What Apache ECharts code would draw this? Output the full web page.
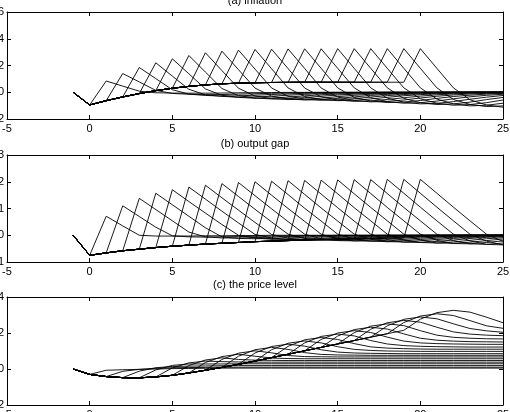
<!DOCTYPE html>
<html>
<head>
<meta charset="utf-8">
<script src="https://cdn.jsdelivr.net/npm/echarts@6/dist/echarts.min.js"></script>
<style>
  html, body { margin: 0; padding: 0; background: #fff; }
  #main { width: 510px; height: 412px; }
</style>
</head>
<body>
<div id="main"></div>
<script>
// periods -1 .. 25
const periods = [-1, 0, 1, 2, 3, 4, 5, 6, 7, 8, 9, 10, 11, 12, 13, 14, 15, 16, 17, 18, 19, 20, 21, 22, 23, 24, 25];
const xTicks = [-5, 0, 5, 10, 15, 20, 25];
const panelTitles = ['(a) inflation', '(b) output gap', '(c) the price level'];

// common path before each line leaves it (t = -1 .. 19)
const inflBase = [0, -0.95, -0.63, -0.35, -0.1, 0.12, 0.3, 0.44, 0.55, 0.63, 0.68, 0.71, 0.73, 0.74, 0.75, 0.75, 0.75, 0.75, 0.75, 0.75, 0.75];
const gapBase = [0, -0.75, -0.66, -0.58, -0.52, -0.46, -0.41, -0.37, -0.33, -0.3, -0.27, -0.24, -0.22, -0.2, -0.18, -0.16, -0.15, -0.13, -0.12, -0.11, -0.1];
const priceBase = [0, -0.3, -0.42, -0.48, -0.49, -0.44, -0.35, -0.22, -0.07, 0.09, 0.26, 0.44, 0.63, 0.82, 1.01, 1.2, 1.39, 1.58, 1.77, 1.96, 2.15];

// line k: values from t = k to t = 25
const inflTails = [
  [0.84, 0.46, 0.08, -0.04, -0.06, -0.07, -0.07, -0.06, -0.04, -0.03, -0.02, -0.01, -0.01, 0, 0, 0, 0, 0, 0, 0, 0, 0, 0, 0, 0],
  [1.4, 0.77, 0.14, -0.09, -0.15, -0.18, -0.17, -0.14, -0.11, -0.08, -0.05, -0.03, -0.02, -0.01, -0.01, 0, 0, 0, 0, 0, 0, 0, 0, 0],
  [1.85, 1.02, 0.19, -0.14, -0.24, -0.28, -0.27, -0.22, -0.17, -0.12, -0.08, -0.05, -0.03, -0.02, -0.01, 0, 0, 0, 0, 0, 0, 0, 0],
  [2.2, 1.21, 0.22, -0.19, -0.31, -0.37, -0.35, -0.3, -0.22, -0.16, -0.1, -0.07, -0.04, -0.03, -0.01, -0.01, 0, 0, 0, 0, 0, 0],
  [2.5, 1.38, 0.25, -0.23, -0.38, -0.45, -0.43, -0.36, -0.27, -0.19, -0.13, -0.08, -0.05, -0.03, -0.02, -0.01, 0, 0, 0, 0, 0],
  [2.75, 1.51, 0.28, -0.25, -0.43, -0.5, -0.48, -0.4, -0.3, -0.21, -0.14, -0.09, -0.06, -0.04, -0.02, -0.01, 0, 0, 0, 0],
  [2.95, 1.62, 0.3, -0.28, -0.47, -0.55, -0.52, -0.44, -0.33, -0.23, -0.15, -0.1, -0.06, -0.04, -0.02, -0.01, 0, 0, 0],
  [3.07, 1.69, 0.31, -0.29, -0.49, -0.58, -0.55, -0.46, -0.35, -0.24, -0.16, -0.1, -0.06, -0.04, -0.02, -0.01, 0, 0],
  [3.15, 1.73, 0.32, -0.3, -0.51, -0.6, -0.57, -0.48, -0.36, -0.25, -0.17, -0.11, -0.07, -0.04, -0.02, -0.01, 0],
  [3.2, 1.76, 0.32, -0.32, -0.54, -0.63, -0.6, -0.5, -0.38, -0.26, -0.18, -0.11, -0.07, -0.04, -0.03, -0.01],
  [3.22, 1.77, 0.32, -0.34, -0.58, -0.68, -0.65, -0.54, -0.41, -0.29, -0.19, -0.12, -0.07, -0.05, -0.03],
  [3.24, 1.78, 0.32, -0.36, -0.61, -0.72, -0.68, -0.58, -0.43, -0.3, -0.2, -0.13, -0.08, -0.05],
  [3.25, 1.79, 0.33, -0.39, -0.65, -0.77, -0.73, -0.62, -0.46, -0.32, -0.22, -0.14, -0.08],
  [3.25, 1.79, 0.33, -0.41, -0.7, -0.82, -0.78, -0.66, -0.49, -0.34, -0.23, -0.15],
  [3.26, 1.79, 0.33, -0.44, -0.74, -0.87, -0.83, -0.7, -0.52, -0.37, -0.24],
  [3.26, 1.79, 0.33, -0.46, -0.78, -0.92, -0.87, -0.74, -0.55, -0.39],
  [3.26, 1.79, 0.33, -0.49, -0.82, -0.97, -0.92, -0.78, -0.58],
  [3.26, 1.79, 0.33, -0.51, -0.87, -1.02, -0.97, -0.82],
  [3.26, 1.79, 0.33, -0.54, -0.91, -1.07, -1.02],
  [3.26, 1.79, 0.33, -0.56, -0.95, -1.12]
];

const gapTails = [
  [0.71, 0.35, 0, -0.03, -0.03, -0.03, -0.02, -0.02, -0.01, -0.01, 0, 0, 0, 0, 0, 0, 0, 0, 0, 0, 0, 0, 0, 0, 0],
  [1.1, 0.7, 0.3, -0.02, -0.06, -0.07, -0.06, -0.05, -0.04, -0.03, -0.02, -0.01, -0.01, 0, 0, 0, 0, 0, 0, 0, 0, 0, 0, 0],
  [1.38, 0.96, 0.54, 0.12, -0.06, -0.1, -0.1, -0.09, -0.07, -0.05, -0.04, -0.03, -0.02, -0.01, -0.01, 0, 0, 0, 0, 0, 0, 0, 0],
  [1.57, 1.14, 0.71, 0.28, -0.06, -0.12, -0.13, -0.12, -0.1, -0.08, -0.06, -0.04, -0.03, -0.02, -0.01, -0.01, 0, 0, 0, 0, 0, 0],
  [1.7, 1.26, 0.83, 0.4, 0, -0.1, -0.15, -0.16, -0.14, -0.11, -0.08, -0.06, -0.04, -0.03, -0.02, -0.01, 0, 0, 0, 0, 0],
  [1.8, 1.35, 0.9, 0.46, 0.03, -0.1, -0.16, -0.17, -0.15, -0.12, -0.09, -0.07, -0.05, -0.03, -0.02, -0.01, 0, 0, 0, 0],
  [1.87, 1.4, 0.94, 0.48, 0.03, -0.11, -0.17, -0.18, -0.16, -0.13, -0.1, -0.07, -0.05, -0.03, -0.02, -0.01, 0, 0, 0],
  [1.93, 1.45, 0.97, 0.5, 0.04, -0.12, -0.18, -0.19, -0.17, -0.14, -0.1, -0.07, -0.05, -0.03, -0.02, -0.01, 0, 0],
  [1.97, 1.48, 0.99, 0.51, 0.04, -0.13, -0.2, -0.21, -0.18, -0.14, -0.1, -0.07, -0.05, -0.03, -0.02, -0.01, 0],
  [2.0, 1.5, 1.0, 0.52, 0.04, -0.13, -0.21, -0.22, -0.19, -0.15, -0.11, -0.07, -0.05, -0.03, -0.02, -0.01],
  [2.02, 1.52, 1.01, 0.53, 0.04, -0.14, -0.22, -0.24, -0.2, -0.16, -0.11, -0.08, -0.05, -0.03, -0.02],
  [2.04, 1.53, 1.02, 0.53, 0.04, -0.15, -0.24, -0.25, -0.21, -0.16, -0.12, -0.08, -0.05, -0.03],
  [2.05, 1.54, 1.03, 0.53, 0.04, -0.16, -0.26, -0.27, -0.23, -0.18, -0.12, -0.08, -0.05],
  [2.06, 1.55, 1.03, 0.54, 0.04, -0.17, -0.27, -0.29, -0.25, -0.19, -0.13, -0.09],
  [2.07, 1.55, 1.04, 0.54, 0.04, -0.18, -0.29, -0.3, -0.26, -0.2, -0.14],
  [2.08, 1.56, 1.04, 0.54, 0.04, -0.19, -0.31, -0.32, -0.27, -0.21],
  [2.08, 1.56, 1.04, 0.54, 0.04, -0.2, -0.32, -0.34, -0.29],
  [2.09, 1.57, 1.05, 0.54, 0.04, -0.21, -0.34, -0.36],
  [2.09, 1.57, 1.05, 0.54, 0.04, -0.22, -0.36],
  [2.09, 1.57, 1.05, 0.54, 0.04, -0.23]
];

const priceTails = [
  [-0.07, -0.04, -0.02, 0, 0.02, 0.03, 0.04, 0.05, 0.05, 0.05, 0.05, 0.05, 0.05, 0.05, 0.05, 0.05, 0.05, 0.05, 0.05, 0.05, 0.05, 0.05, 0.05, 0.05, 0.05],
  [-0.13, -0.02, 0.04, 0.07, 0.08, 0.09, 0.1, 0.1, 0.1, 0.1, 0.1, 0.1, 0.1, 0.1, 0.1, 0.1, 0.1, 0.1, 0.1, 0.1, 0.1, 0.1, 0.1, 0.1],
  [-0.12, 0.07, 0.14, 0.16, 0.17, 0.18, 0.19, 0.19, 0.19, 0.19, 0.19, 0.19, 0.19, 0.19, 0.19, 0.19, 0.19, 0.19, 0.19, 0.19, 0.19, 0.19, 0.19],
  [-0.05, 0.2, 0.28, 0.28, 0.28, 0.29, 0.29, 0.29, 0.29, 0.29, 0.29, 0.29, 0.29, 0.29, 0.29, 0.29, 0.29, 0.29, 0.29, 0.29, 0.29, 0.29],
  [0.06, 0.34, 0.44, 0.41, 0.39, 0.38, 0.38, 0.38, 0.38, 0.38, 0.38, 0.38, 0.38, 0.38, 0.38, 0.38, 0.38, 0.38, 0.38, 0.38, 0.38],
  [0.19, 0.5, 0.62, 0.53, 0.49, 0.48, 0.47, 0.47, 0.47, 0.47, 0.47, 0.47, 0.47, 0.47, 0.47, 0.47, 0.47, 0.47, 0.47, 0.47],
  [0.36, 0.69, 0.82, 0.71, 0.61, 0.58, 0.57, 0.57, 0.57, 0.57, 0.57, 0.57, 0.57, 0.57, 0.57, 0.57, 0.57, 0.57, 0.57],
  [0.53, 0.88, 1.01, 0.9, 0.75, 0.69, 0.68, 0.67, 0.67, 0.67, 0.67, 0.67, 0.67, 0.67, 0.67, 0.67, 0.67, 0.67],
  [0.71, 1.07, 1.2, 1.09, 0.91, 0.81, 0.78, 0.77, 0.76, 0.76, 0.76, 0.76, 0.76, 0.76, 0.76, 0.76, 0.76],
  [0.89, 1.25, 1.38, 1.27, 1.07, 0.94, 0.89, 0.87, 0.86, 0.85, 0.85, 0.85, 0.85, 0.85, 0.85, 0.85],
  [1.07, 1.43, 1.56, 1.45, 1.24, 1.09, 1.03, 1.0, 0.99, 0.98, 0.98, 0.98, 0.98, 0.98, 0.98],
  [1.26, 1.62, 1.75, 1.64, 1.41, 1.23, 1.16, 1.13, 1.11, 1.1, 1.1, 1.1, 1.1, 1.1],
  [1.45, 1.81, 1.94, 1.84, 1.58, 1.39, 1.3, 1.26, 1.24, 1.23, 1.22, 1.22, 1.22],
  [1.64, 2.0, 2.13, 2.03, 1.77, 1.55, 1.45, 1.41, 1.39, 1.38, 1.37, 1.37],
  [1.83, 2.19, 2.32, 2.22, 1.95, 1.71, 1.6, 1.55, 1.52, 1.51, 1.5],
  [2.02, 2.38, 2.51, 2.41, 2.13, 1.88, 1.76, 1.71, 1.68, 1.67],
  [2.21, 2.57, 2.7, 2.6, 2.32, 2.06, 1.94, 1.88, 1.85],
  [2.4, 2.76, 2.89, 2.79, 2.51, 2.25, 2.12, 2.04],
  [2.58, 2.94, 3.07, 2.97, 2.69, 2.4, 2.26],
  [2.77, 3.13, 3.26, 3.16, 2.88, 2.57]
];

const yRanges = [
  { min: -2, max: 6, interval: 2 },
  { min: -1, max: 3, interval: 1 },
  { min: -2, max: 4, interval: 2 }
];

const FONT = 'Liberation Sans, Arial, sans-serif';
const chart = echarts.init(document.getElementById('main'));

const grids = [
  { left: 7, top: 12, width: 496, height: 107, outerBoundsMode: 'none', containLabel: false },
  { left: 7, top: 155, width: 496, height: 107, outerBoundsMode: 'none', containLabel: false },
  { left: 7, top: 297, width: 496, height: 108, outerBoundsMode: 'none', containLabel: false }
];
const titleTops = [-5, 138, 279];

function lineData(base, tail, k) {
  // base up to t = k-1, then the tail
  const vals = base.slice(0, k + 1).concat(tail);
  return vals.map((v, i) => [periods[i], v]);
}

const frameLine = { onZero: false, lineStyle: { color: '#000', width: 1 } };
const tickStyle = { show: true, inside: true, length: 4, lineStyle: { color: '#000' } };

const xAxes = [];
const yAxes = [];
grids.forEach((g, i) => {
  xAxes.push({
    type: 'value', gridIndex: i, min: -5, max: 25, interval: 5, position: 'bottom',
    axisLine: frameLine, axisTick: tickStyle,
    axisLabel: { color: '#000', fontSize: 11, fontFamily: FONT, margin: 4, hideOverlap: false },
    splitLine: { show: false }
  });
  yAxes.push({
    type: 'value', gridIndex: i, position: 'left',
    min: yRanges[i].min, max: yRanges[i].max, interval: yRanges[i].interval,
    axisLine: Object.assign({ show: true }, frameLine), axisTick: tickStyle,
    axisLabel: { color: '#000', fontSize: 11, fontFamily: FONT, margin: 3, hideOverlap: false },
    splitLine: { show: false }
  });
});
grids.forEach((g, i) => {
  xAxes.push({
    type: 'value', gridIndex: i, min: -5, max: 25, interval: 5, position: 'top',
    axisLine: frameLine, axisTick: tickStyle,
    axisLabel: { show: false },
    splitLine: { show: false }
  });
  yAxes.push({
    type: 'value', gridIndex: i, position: 'right',
    min: yRanges[i].min, max: yRanges[i].max, interval: yRanges[i].interval,
    axisLine: Object.assign({ show: true }, frameLine), axisTick: tickStyle,
    axisLabel: { show: false },
    splitLine: { show: false }
  });
});

const series = [];
[[inflBase, inflTails], [gapBase, gapTails], [priceBase, priceTails]].forEach((p, i) => {
  p[1].forEach((tail, idx) => {
    series.push({
      type: 'line', xAxisIndex: i, yAxisIndex: i,
      data: lineData(p[0], tail, idx + 1),
      showSymbol: false, silent: true,
      lineStyle: { color: '#000', width: 0.9 }
    });
  });
});

chart.setOption({
  animation: false,
  backgroundColor: '#fff',
  title: panelTitles.map((t, i) => ({
    text: t, left: 'center', top: titleTops[i], padding: 0,
    textStyle: { fontSize: 11, fontWeight: 'normal', color: '#000', fontFamily: FONT }
  })),
  grid: grids,
  xAxis: xAxes,
  yAxis: yAxes,
  series: series
});
</script>
</body>
</html>
